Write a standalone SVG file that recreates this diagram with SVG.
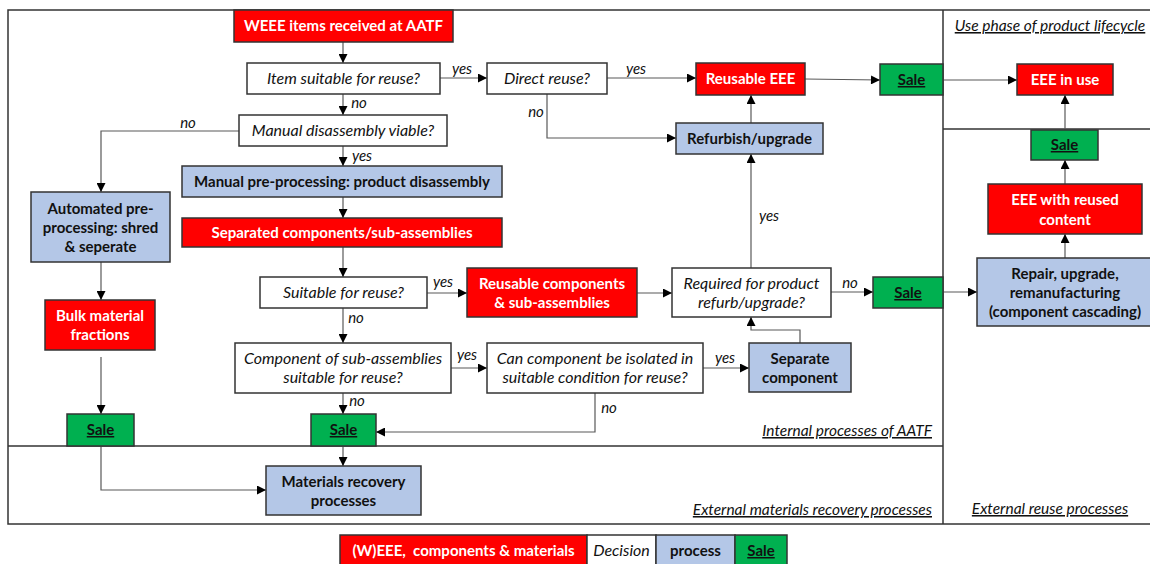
<svg xmlns="http://www.w3.org/2000/svg" width="1150" height="564" viewBox="0 0 1150 564">
<style>
.r{fill:#FF0000;stroke:#333;stroke-width:1.5}
.d{fill:#fff;stroke:#333;stroke-width:1.5}
.p{fill:#B4C7E7;stroke:#333;stroke-width:1.5}
.s{fill:#00B050;stroke:#333;stroke-width:1.5}
text{font-family:Lato,"Liberation Sans",sans-serif;font-size:15px;text-anchor:middle}
.rt{fill:#fff;font-weight:bold}
.dt{fill:#111;font-style:italic;font-size:16px}
.pt{fill:#111;font-weight:bold}
.st{fill:#111;font-weight:bold;text-decoration:underline}
.lb{fill:#111;font-style:italic;font-size:15px}
.reg{fill:#111;font-style:italic;font-size:15.5px;text-decoration:underline}
.c path{fill:none;stroke:#595959;stroke-width:1.2}
.frame{fill:none;stroke:#333;stroke-width:1.5}
</style>
<defs>
<marker id="ah" viewBox="0 0 10 10" refX="10" refY="5" markerWidth="10" markerHeight="9" markerUnits="userSpaceOnUse" orient="auto"><path d="M0,0 L10,5 L0,10 z" fill="#000"/></marker>
</defs>
<g id="frame">
<rect class="frame" x="8" y="10" width="1146" height="514"/>
<line class="frame" x1="943" y1="10" x2="943" y2="524"/>
<line class="frame" x1="8" y1="446" x2="943" y2="446"/>
<line class="frame" x1="943" y1="129" x2="1154" y2="129"/>
<text class="reg" x="1050" y="31">Use phase of product lifecycle</text>
<text class="reg" x="932" y="436" style="text-anchor:end">Internal processes of AATF</text>
<text class="reg" x="932" y="515" style="text-anchor:end">External materials recovery processes</text>
<text class="reg" x="1050" y="514">External reuse processes</text>
</g>
<g class="c" id="connectors">
<path d="M343,42 V63" marker-end="url(#ah)"/>
<path d="M440,78 H487" marker-end="url(#ah)"/>
<path d="M607,78 H696" marker-end="url(#ah)"/>
<path d="M547,94 V138 H676" marker-end="url(#ah)"/>
<path d="M751,123 V95" marker-end="url(#ah)"/>
<path d="M805,79 L880,80" marker-end="url(#ah)"/>
<path d="M943,80 H1017" marker-end="url(#ah)"/>
<path d="M343,94 V115" marker-end="url(#ah)"/>
<path d="M239,131 H101 V192" marker-end="url(#ah)"/>
<path d="M343,146 V166" marker-end="url(#ah)"/>
<path d="M343,197 V218" marker-end="url(#ah)"/>
<path d="M343,247 V277" marker-end="url(#ah)"/>
<path d="M427,293 H467" marker-end="url(#ah)"/>
<path d="M637,293 H672" marker-end="url(#ah)"/>
<path d="M751,268 V154" marker-end="url(#ah)"/>
<path d="M831,292 H873" marker-end="url(#ah)"/>
<path d="M943,292 H977" marker-end="url(#ah)"/>
<path d="M1065,258 V234" marker-end="url(#ah)"/>
<path d="M1065,184 V160" marker-end="url(#ah)"/>
<path d="M1065,130 V95" marker-end="url(#ah)"/>
<path d="M343,308 V343" marker-end="url(#ah)"/>
<path d="M451,368 H487" marker-end="url(#ah)"/>
<path d="M703,368 H749" marker-end="url(#ah)"/>
<path d="M800,343 V330 H751 V317" marker-end="url(#ah)"/>
<path d="M595,393 V432 H376" marker-end="url(#ah)"/>
<path d="M343,393 V414" marker-end="url(#ah)"/>
<path d="M101,262 V300" marker-end="url(#ah)"/>
<path d="M101,357 V414" marker-end="url(#ah)"/>
<path d="M101,446 V490 H266" marker-end="url(#ah)"/>
<path d="M343,446 V466" marker-end="url(#ah)"/>
<text class="lb" x="462" y="74">yes</text>
<text class="lb" x="636" y="74">yes</text>
<text class="lb" x="536" y="117">no</text>
<text class="lb" x="359" y="108">no</text>
<text class="lb" x="188" y="128">no</text>
<text class="lb" x="362" y="161">yes</text>
<text class="lb" x="443" y="287">yes</text>
<text class="lb" x="769" y="221">yes</text>
<text class="lb" x="850" y="288">no</text>
<text class="lb" x="356" y="323">no</text>
<text class="lb" x="467" y="360">yes</text>
<text class="lb" x="725" y="363">yes</text>
<text class="lb" x="609" y="413">no</text>
<text class="lb" x="357" y="406">no</text>
</g>
<g id="n-weee"><rect class="r" x="234" y="10" width="219" height="32"/><text class="rt" x="343.5" y="31">WEEE items received at AATF</text></g>
<g id="n-item"><rect class="d" x="247" y="63" width="193" height="31"/><text class="dt" x="343.5" y="84">Item suitable for reuse?</text></g>
<g id="n-direct"><rect class="d" x="487" y="63" width="120" height="31"/><text class="dt" x="547" y="84">Direct reuse?</text></g>
<g id="n-reusableeee"><rect class="r" x="696" y="63" width="109" height="32"/><text class="rt" x="750.5" y="84">Reusable EEE</text></g>
<g id="n-sale1"><rect class="s" x="880" y="64" width="63" height="31"/><text class="st" x="911.5" y="85">Sale</text></g>
<g id="n-inuse"><rect class="r" x="1017" y="64" width="96" height="31"/><text class="rt" x="1065" y="85">EEE in use</text></g>
<g id="n-manual"><rect class="d" x="239" y="115" width="208" height="31"/><text class="dt" x="343" y="136">Manual disassembly viable?</text></g>
<g id="n-refurb"><rect class="p" x="676" y="123" width="147" height="31"/><text class="pt" x="749.5" y="144">Refurbish/upgrade</text></g>
<g id="n-manualpre"><rect class="p" x="182" y="166" width="320" height="31"/><text class="pt" x="342" y="187">Manual pre-processing: product disassembly</text></g>
<g id="n-auto"><rect class="p" x="31" y="192" width="139" height="70"/><text class="pt" x="100.5" y="214">Automated pre-</text><text class="pt" x="100.5" y="233">processing: shred</text><text class="pt" x="100.5" y="252">&amp; seperate</text></g>
<g id="n-separated"><rect class="r" x="182" y="218" width="320" height="29"/><text class="rt" x="342" y="238">Separated components/sub-assemblies</text></g>
<g id="n-bulk"><rect class="r" x="45" y="300" width="110" height="50"/><text class="rt" x="100" y="321">Bulk material</text><text class="rt" x="100" y="340">fractions</text></g>
<g id="n-suitable"><rect class="d" x="260" y="277" width="167" height="31"/><text class="dt" x="343.5" y="298">Suitable for reuse?</text></g>
<g id="n-reusablecomp"><rect class="r" x="467" y="268" width="170" height="49"/><text class="rt" x="552" y="289">Reusable components</text><text class="rt" x="552" y="308">&amp; sub-assemblies</text></g>
<g id="n-required"><rect class="d" x="672" y="268" width="159" height="49"/><text class="dt" x="751.5" y="289">Required for product</text><text class="dt" x="751.5" y="308">refurb/upgrade?</text></g>
<g id="n-sale2"><rect class="s" x="873" y="277" width="70" height="31"/><text class="st" x="908" y="298">Sale</text></g>
<g id="n-repair"><rect class="p" x="977" y="258" width="177" height="68"/><text class="pt" x="1065" y="279">Repair, upgrade,</text><text class="pt" x="1065" y="298">remanufacturing</text><text class="pt" x="1065" y="317">(component cascading)</text></g>
<g id="n-reusedcontent"><rect class="r" x="988" y="184" width="154" height="50"/><text class="rt" x="1065" y="205">EEE with reused</text><text class="rt" x="1065" y="225">content</text></g>
<g id="n-sale3"><rect class="s" x="1031" y="130" width="67" height="30"/><text class="st" x="1064.5" y="150">Sale</text></g>
<g id="n-component"><rect class="d" x="235" y="343" width="216" height="50"/><text class="dt" x="343" y="364">Component of sub-assemblies</text><text class="dt" x="343" y="383">suitable for reuse?</text></g>
<g id="n-isolated"><rect class="d" x="487" y="343" width="216" height="50"/><text class="dt" x="595" y="364">Can component be isolated in</text><text class="dt" x="595" y="383">suitable condition for reuse?</text></g>
<g id="n-separate"><rect class="p" x="749" y="343" width="102" height="49"/><text class="pt" x="800" y="364">Separate</text><text class="pt" x="800" y="383">component</text></g>
<g id="n-sale4"><rect class="s" x="67" y="414" width="67" height="32"/><text class="st" x="100.5" y="435">Sale</text></g>
<g id="n-sale5"><rect class="s" x="311" y="414" width="65" height="32"/><text class="st" x="343.5" y="435">Sale</text></g>
<g id="n-materials"><rect class="p" x="266" y="466" width="155" height="49"/><text class="pt" x="343.5" y="487">Materials recovery</text><text class="pt" x="343.5" y="506">processes</text></g>
<g id="legend">
<rect class="r" x="340" y="535" width="247" height="31"/><text class="rt" x="463.5" y="556" style="white-space:pre">(W)EEE,  components &amp; materials</text>
<rect class="d" x="587" y="535" width="69" height="31"/><text class="dt" x="621.5" y="556">Decision</text>
<rect class="p" x="656" y="535" width="79" height="31"/><text class="pt" x="695.5" y="556">process</text>
<rect class="s" x="735" y="535" width="52" height="31"/><text class="st" x="761" y="556">Sale</text>
</g>
</svg>
